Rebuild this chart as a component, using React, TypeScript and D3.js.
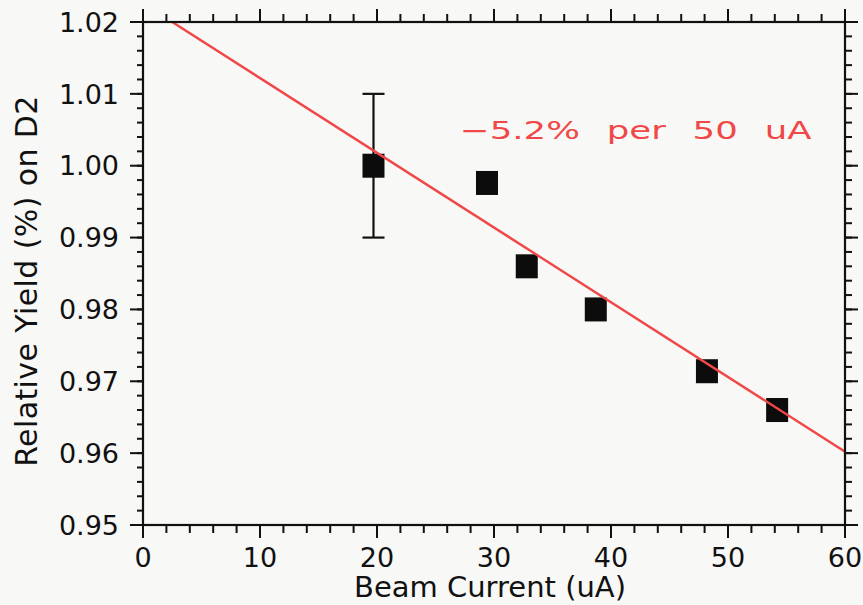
import React from 'react'
import * as d3 from 'd3'

// values
const beamCurrent = [19.7, 29.4, 32.8, 38.7, 48.2, 54.2]
const relYield = [1.0, 0.9976, 0.986, 0.98, 0.9714, 0.966]
const yieldErr = [0.01, 0, 0, 0, 0, 0]

// straight line fit: -5.2% per 50 uA
const fitIntercept = 1.0226
const fitSlope = -0.00104
const fitLabel = '\u22125.2% per 50 uA'

const xDomain = [0, 60]
const yDomain = [0.95, 1.02]
const xTickValues = [0, 10, 20, 30, 40, 50, 60]
const yTickValues = [0.95, 0.96, 0.97, 0.98, 0.99, 1.0, 1.01, 1.02]

const W = 863
const H = 605
const margin = { top: 22, right: 18, bottom: 80, left: 143 }
const font = '"DejaVu Sans", sans-serif'
const ink = '#111'

export default function App() {
  const w = W - margin.left - margin.right
  const h = H - margin.top - margin.bottom
  const x = d3.scaleLinear().domain(xDomain).range([margin.left, margin.left + w])
  const y = d3.scaleLinear().domain(yDomain).range([margin.top + h, margin.top])
  const x0 = margin.left
  const x1 = margin.left + w
  const y0 = margin.top + h
  const y1 = margin.top

  // minor ticks every 2 uA and every 0.002
  const xMinor = x.ticks(30)
  const yMinor = y.ticks(35)

  const pts = beamCurrent.map((c, i) => ({ c, v: relYield[i], e: yieldErr[i] }))
  const fitLine = d3.line<number>()
    .x((d) => x(d))
    .y((d) => y(fitIntercept + fitSlope * d))
  const sq = 22
  const sqH = 24

  return (
    <svg width={W} height={H} style={{ position: 'fixed', left: 0, top: 0 }}>
      <defs>
        <clipPath id="plot">
          <rect x={x0} y={y1} width={w} height={h} />
        </clipPath>
      </defs>
      <rect x={0} y={0} width={W} height={H} fill="#f8f8f6" />

      {/* error bars */}
      {pts.filter((p) => p.e > 0).map((p, i) => (
        <g key={'e' + i} stroke={ink} strokeWidth={2.2}>
          <line x1={x(p.c)} x2={x(p.c)} y1={y(p.v - p.e)} y2={y(p.v + p.e)} />
          <line x1={x(p.c) - 11} x2={x(p.c) + 11} y1={y(p.v - p.e)} y2={y(p.v - p.e)} />
          <line x1={x(p.c) - 11} x2={x(p.c) + 11} y1={y(p.v + p.e)} y2={y(p.v + p.e)} />
        </g>
      ))}

      {/* data squares */}
      {pts.map((p, i) => (
        <rect key={i} x={x(p.c) - sq / 2} y={y(p.v) - sqH / 2} width={sq} height={sqH} fill="#0c0c0c" />
      ))}

      {/* fit line */}
      <path
        d={fitLine(xDomain) || ''}
        clipPath="url(#plot)"
        fill="none"
        stroke="#f04848"
        strokeWidth={2.4}
      />

      {/* frame + ticks */}
      <g stroke={ink} strokeWidth={2}>
        <rect x={x0} y={y1} width={w} height={h} fill="none" strokeWidth={2.2} />
        {xMinor.map((t) => (
          <g key={'xm' + t}>
            <line x1={x(t)} x2={x(t)} y1={y0} y2={y0 + 8} />
            <line x1={x(t)} x2={x(t)} y1={y1} y2={y1 - 8} />
          </g>
        ))}
        {xTickValues.map((t) => (
          <g key={'xM' + t}>
            <line x1={x(t)} x2={x(t)} y1={y0} y2={y0 + 13} />
            <line x1={x(t)} x2={x(t)} y1={y1} y2={y1 - 13} />
          </g>
        ))}
        {yMinor.map((t) => (
          <g key={'ym' + t}>
            <line x1={x0} x2={x0 - 6} y1={y(t)} y2={y(t)} />
            <line x1={x1} x2={x1 + 7} y1={y(t)} y2={y(t)} />
          </g>
        ))}
        {yTickValues.map((t) => (
          <g key={'yM' + t}>
            <line x1={x0} x2={x0 - 13} y1={y(t)} y2={y(t)} />
            <line x1={x1} x2={x1 + 13} y1={y(t)} y2={y(t)} />
          </g>
        ))}
      </g>

      {/* tick labels */}
      <g fill={ink} style={{ fontFamily: font, fontSize: 27 }}>
        {xTickValues.map((t) => (
          <text key={'xl' + t} x={x(t)} y={y0 + 42} textAnchor="middle">
            {d3.format('d')(t)}
          </text>
        ))}
        {yTickValues.map((t) => (
          <text key={'yl' + t} x={x0 - 24} y={y(t)} dy="0.36em" textAnchor="end">
            {d3.format('.2f')(t)}
          </text>
        ))}
      </g>

      <g transform="translate(460,139) scale(1.42,1)">
        <text
          x={0}
          y={0}
          fill="#f04848"
          style={{ fontFamily: font, fontSize: 25, wordSpacing: 11 }}
        >
          {fitLabel}
        </text>
      </g>

      <text
        x={490}
        y={597}
        textAnchor="middle"
        fill={ink}
        style={{ fontFamily: font, fontSize: 29 }}
      >
        Beam Current (uA)
      </text>
      <text
        transform="translate(37,281) rotate(-90)"
        textAnchor="middle"
        fill={ink}
        style={{ fontFamily: font, fontSize: 30, letterSpacing: 0.4 }}
      >
        Relative Yield (%) on D2
      </text>
    </svg>
  )
}
